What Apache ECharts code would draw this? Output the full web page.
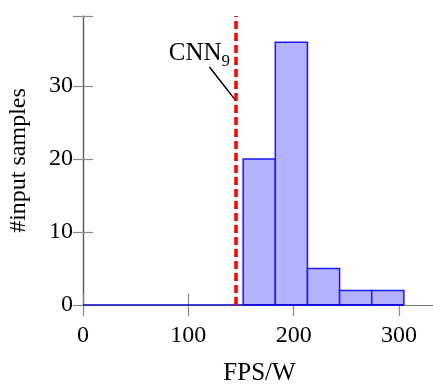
<!DOCTYPE html>
<html>
<head>
<meta charset="utf-8">
<script src="https://cdn.jsdelivr.net/npm/echarts@6/dist/echarts.min.js"></script>
<style>
  html, body { margin: 0; padding: 0; background: #fff; }
  #chart { width: 433px; height: 385px; }
</style>
</head>
<body>
<div id="chart"></div>
<script>
// histogram bins (FPS/W) and sample counts
const binStarts = [152, 182.5, 213, 243.5, 274]
const binEnds = [182.5, 213, 243.5, 274, 304.5]
const counts = [20, 36, 5, 2, 2]
const xTicks = [0, 100, 200, 300]
const yTicks = [0, 10, 20, 30]
const refLine = 145 // CNN9
const labelPin = [[145, 28], [120, 32.6]]

const font = "'Liberation Serif', 'DejaVu Serif', serif"
const chart = echarts.init(document.getElementById("chart"))

const bins = counts.map((c, i) => [binStarts[i], binEnds[i], c])

const tickStyle = { color: "#888", width: 1.2 }

const option = {
  animation: false,
  textStyle: { fontFamily: font },
  grid: { left: 83, top: 16, width: 353, height: 289, containLabel: false, outerBoundsMode: "none" },
  xAxis: [
    {
      type: "value",
      min: 0,
      max: 335,
      interval: 100,
      position: "bottom",
      name: "FPS/W",
      nameLocation: "middle",
      nameGap: 56,
      nameTextStyle: { fontFamily: font, fontSize: 25, color: "#000" },
      axisLine: { lineStyle: { color: "#000", width: 1.2 } },
      axisTick: { inside: false, length: 11, lineStyle: tickStyle },
      axisLabel: {
        fontFamily: font,
        fontSize: 24,
        color: "#000",
        margin: 19,
        showMaxLabel: false,
        formatter: (v) => (xTicks.includes(v) ? String(v) : ""),
      },
      splitLine: { show: false },
    },
    {
      type: "value",
      min: 0,
      max: 335,
      interval: 100,
      position: "top",
      axisLine: { show: true, lineStyle: { color: "#777", width: 1.2 } },
      axisTick: { inside: false, length: 11, lineStyle: tickStyle },
      axisLabel: { show: false },
      splitLine: { show: false },
    },
  ],
  yAxis: [
    {
      type: "value",
      min: 0,
      max: 39.6,
      interval: 10,
      position: "left",
      name: "#input samples",
      nameLocation: "middle",
      nameGap: 52,
      nameTextStyle: { fontFamily: font, fontSize: 24, color: "#000" },
      axisLine: { show: true, lineStyle: { color: "#555", width: 1.2 } },
      axisTick: { show: true, inside: true, length: 10, lineStyle: tickStyle },
      axisLabel: {
        fontFamily: font,
        fontSize: 24,
        color: "#000",
        margin: 10,
        formatter: (v) => (yTicks.includes(v) ? String(v) : ""),
      },
      splitLine: { show: false },
    },
    {
      type: "value",
      min: 0,
      max: 39.6,
      interval: 10,
      position: "right",
      axisLine: { show: true, lineStyle: { color: "#555", width: 1.2 } },
      axisTick: { show: true, inside: true, length: 10, lineStyle: tickStyle },
      axisLabel: { show: false },
      splitLine: { show: false },
    },
  ],
  series: [
    {
      type: "line",
      data: [[0, 0], [binEnds[binEnds.length - 1], 0]],
      symbol: "none",
      lineStyle: { color: "#0000cc", width: 1.5 },
      z: 3,
    },
    {
      type: "custom",
      data: bins,
      renderItem: (params, api) => {
        const p0 = api.coord([api.value(0), api.value(2)])
        const p1 = api.coord([api.value(1), 0])
        return {
          type: "rect",
          shape: { x: p0[0], y: p0[1], width: p1[0] - p0[0], height: p1[1] - p0[1] },
          style: { fill: "#b3b3ff", stroke: "#1a1aff", lineWidth: 1.5 },
        }
      },
      z: 2,
    },
    {
      type: "line",
      data: labelPin,
      symbol: "none",
      lineStyle: { color: "#000", width: 1.5 },
      z: 4,
      markPoint: {
        symbol: "circle",
        symbolSize: 0,
        data: [{ coord: labelPin[1] }],
        label: {
          show: true,
          position: "top",
          distance: 2,
          offset: [-10, 5],
          formatter: "{a|CNN}{b|9}",
          rich: {
            a: { fontFamily: font, fontSize: 25, color: "#000" },
            b: { fontFamily: font, fontSize: 17, color: "#000", padding: [16, 0, 0, 0] },
          },
        },
      },
      markLine: {
        symbol: "none",
        silent: true,
        label: { show: false },
        lineStyle: { color: "#ff0000", width: 3.5, type: [8, 4] },
        data: [{ xAxis: refLine }],
      },
    },
  ],
}

chart.setOption(option)
</script>
</body>
</html>
